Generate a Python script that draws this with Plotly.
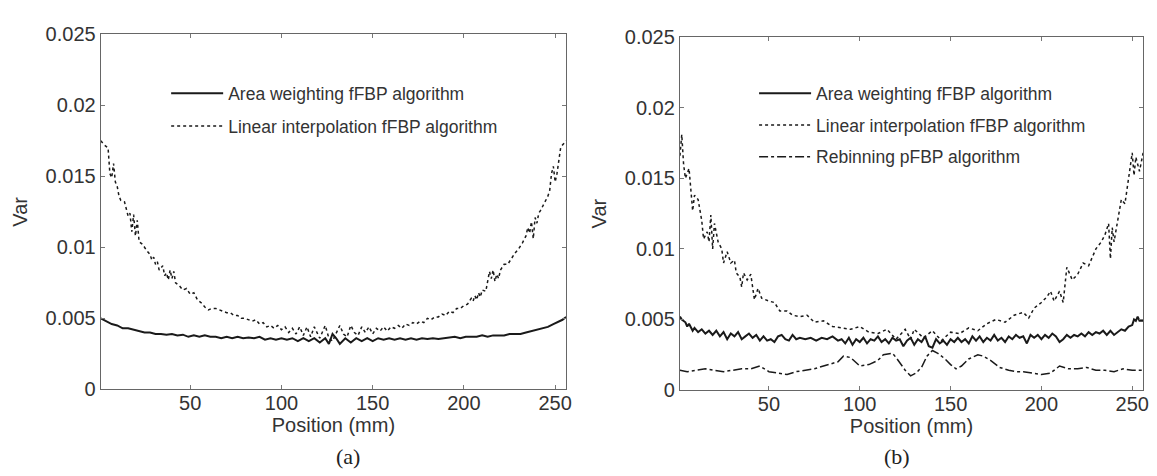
import plotly.graph_objects as go

# ---------------- data: panel (a) ----------------
pos_a_aw = [1, 4, 7, 10, 13, 16, 19, 22, 25, 28, 31, 34, 37, 40, 43, 46, 49, 52, 55, 58,
            61, 64, 67, 70, 73, 76, 79, 82, 85, 88, 91, 94, 97, 100, 103, 106, 109, 112, 115, 118,
            121, 124, 126, 128, 130, 132, 135, 138, 141, 144, 147, 150, 153, 156, 159, 162, 165, 168, 171, 174,
            177, 180, 183, 186, 189, 192, 195, 198, 201, 204, 207, 210, 213, 216, 219, 222, 225, 228, 231, 234,
            237, 240, 243, 246, 249, 252, 254, 256]
var_a_aw = [0.0050, 0.0048, 0.0046, 0.0045, 0.0043, 0.0043, 0.0042, 0.0041, 0.0040, 0.0040,
            0.0039, 0.0039, 0.00385, 0.0039, 0.0038, 0.00385, 0.0037, 0.0038, 0.0037, 0.0038,
            0.0037, 0.0037, 0.0036, 0.0037, 0.0036, 0.0037, 0.0036, 0.00365, 0.0036, 0.0037,
            0.0035, 0.0036, 0.0035, 0.0036, 0.0035, 0.0036, 0.0034, 0.0036, 0.0034, 0.0036,
            0.0033, 0.0036, 0.0032, 0.0039, 0.0036, 0.0032, 0.0036, 0.0033, 0.0036, 0.0034,
            0.0036, 0.0034, 0.0036, 0.0035, 0.0036, 0.0035, 0.0036, 0.0035, 0.0036, 0.0035,
            0.0036, 0.00355, 0.0036, 0.00355, 0.0036, 0.0036, 0.0037, 0.0036, 0.0037, 0.0037,
            0.0037, 0.0038, 0.0037, 0.0038, 0.0038, 0.0038, 0.0039, 0.0039, 0.0039, 0.0040,
            0.0041, 0.0042, 0.0043, 0.0044, 0.0046, 0.0048, 0.0049, 0.0051]

pos_a_li = [1, 3, 5, 6, 7, 8, 9, 10, 11, 12, 14, 15, 16, 17, 18, 19, 20, 21, 22, 24,
            26, 28, 29, 30, 31, 32, 33, 35, 36, 37, 38, 39, 40, 41, 42, 44, 46, 48, 50, 52,
            54, 56, 58, 60, 62, 64, 66, 68, 70, 72, 74, 76, 78, 80, 82, 84, 86, 88, 90, 92,
            94, 96, 98, 100, 102, 104, 106, 108, 110, 112, 114, 116, 118, 121, 124, 126, 128, 130, 132, 134,
            136, 138, 140, 142, 144, 146, 148, 150, 152, 154, 156, 158, 160, 162, 164, 166, 168, 170, 172, 174,
            176, 178, 180, 182, 184, 186, 188, 190, 192, 194, 196, 198, 200, 202, 204, 205, 206, 207, 208, 209,
            210, 212, 213, 214, 215, 216, 217, 218, 219, 220, 222, 224, 226, 228, 230, 232, 234, 235, 236, 237,
            238, 239, 240, 241, 242, 244, 246, 247, 248, 249, 250, 251, 252, 253, 254, 256]
var_a_li = [0.0175, 0.0172, 0.0170, 0.0152, 0.0149, 0.0159, 0.0146, 0.0143, 0.0136, 0.0133,
            0.0132, 0.0127, 0.0122, 0.0124, 0.0111, 0.0123, 0.0108, 0.0119, 0.0104, 0.0102,
            0.0098, 0.0095, 0.0091, 0.0093, 0.0088, 0.0090, 0.0084, 0.0087, 0.0080, 0.0082,
            0.0077, 0.0084, 0.0078, 0.0083, 0.0075, 0.0073, 0.0070, 0.0071, 0.0067, 0.0068,
            0.0063, 0.0061, 0.0058, 0.0056, 0.0057, 0.0057, 0.0056, 0.0055, 0.0054, 0.0054,
            0.0052, 0.0052, 0.0050, 0.0050, 0.0049, 0.0048, 0.0049, 0.0046, 0.0047, 0.0044,
            0.0045, 0.0043, 0.0045, 0.0042, 0.0044, 0.0040, 0.0043, 0.0039, 0.0044, 0.0038,
            0.0044, 0.0037, 0.0044, 0.0036, 0.0045, 0.0036, 0.0034, 0.0040, 0.0045, 0.0039,
            0.0037, 0.0045, 0.0040, 0.0038, 0.0044, 0.0040, 0.0044, 0.0039, 0.0043, 0.0041,
            0.0044, 0.0041, 0.0044, 0.0043, 0.0045, 0.0043, 0.0046, 0.0045, 0.0047, 0.0046,
            0.0048, 0.0047, 0.0050, 0.0049, 0.0051, 0.0051, 0.0053, 0.0052, 0.0055, 0.0054,
            0.0057, 0.0057, 0.0059, 0.0060, 0.0064, 0.0062, 0.0066, 0.0063, 0.0068, 0.0065,
            0.0070, 0.0069, 0.0077, 0.0083, 0.0078, 0.0084, 0.0076, 0.0081, 0.0078, 0.0084,
            0.0088, 0.0088, 0.0092, 0.0096, 0.0099, 0.0103, 0.0108, 0.0114, 0.0110, 0.0118,
            0.0106, 0.0121, 0.0117, 0.0124, 0.0126, 0.0131, 0.0136, 0.0140, 0.0152, 0.0157,
            0.0146, 0.0152, 0.0160, 0.0170, 0.0172, 0.0175]

# ---------------- data: panel (b) ----------------
pos_b_aw = [1, 2, 4, 5, 6, 8, 9, 11, 13, 15, 17, 19, 21, 23, 25, 27, 29, 31, 33, 35,
            37, 39, 41, 43, 45, 47, 49, 51, 53, 55, 57, 59, 61, 63, 65, 67, 70, 73, 76, 79,
            82, 85, 88, 90, 92, 94, 96, 98, 100, 102, 104, 106, 108, 110, 112, 114, 116, 118, 120, 122,
            124, 126, 128, 130, 132, 134, 136, 138, 140, 142, 144, 146, 148, 150, 152, 154, 156, 158, 160, 162,
            164, 166, 168, 170, 172, 174, 176, 178, 180, 182, 184, 186, 188, 190, 192, 194, 196, 198, 200, 202,
            204, 206, 208, 210, 212, 214, 216, 218, 220, 222, 224, 226, 228, 230, 232, 234, 236, 238, 240, 242,
            244, 246, 248, 250, 251, 252, 253, 254, 256]
var_b_aw = [0.0052, 0.0050, 0.0048, 0.0045, 0.0047, 0.0042, 0.0044, 0.0041, 0.0043, 0.0040,
            0.0042, 0.0039, 0.0042, 0.0038, 0.0041, 0.0036, 0.0040, 0.0038, 0.0041, 0.0036,
            0.0038, 0.0040, 0.0037, 0.0039, 0.0035, 0.0038, 0.0035, 0.0036, 0.0034, 0.0038,
            0.0039, 0.0036, 0.0035, 0.0039, 0.0036, 0.0037, 0.0036, 0.0037, 0.0035, 0.0037,
            0.0036, 0.0038, 0.0035, 0.0036, 0.0033, 0.0037, 0.0032, 0.0036, 0.0034, 0.0037,
            0.0033, 0.0036, 0.0035, 0.0038, 0.0034, 0.0036, 0.0033, 0.0037, 0.0035, 0.0036,
            0.0031, 0.0035, 0.0037, 0.0032, 0.0036, 0.0034, 0.0038, 0.0031, 0.0030, 0.0036,
            0.0033, 0.0035, 0.0032, 0.0036, 0.0034, 0.0037, 0.0034, 0.0036, 0.0033, 0.0038,
            0.0035, 0.0038, 0.0034, 0.0037, 0.0035, 0.0039, 0.0035, 0.0037, 0.0034, 0.0038,
            0.0036, 0.0039, 0.0037, 0.0038, 0.0033, 0.0039, 0.0037, 0.0039, 0.0036, 0.0039,
            0.0037, 0.0040, 0.0038, 0.0034, 0.0036, 0.0039, 0.0037, 0.0039, 0.0038, 0.0040,
            0.0038, 0.0041, 0.0039, 0.0041, 0.0040, 0.0042, 0.0039, 0.0042, 0.0039, 0.0041,
            0.0043, 0.0042, 0.0045, 0.0046, 0.0050, 0.0049, 0.0052, 0.0049, 0.0049]

pos_b_li = [1, 2, 3, 4, 6, 7, 8, 9, 11, 13, 14, 16, 17, 18, 19, 20, 22, 24, 25, 27,
            29, 31, 32, 34, 35, 36, 38, 40, 42, 44, 46, 50, 53, 56, 60, 63, 67, 71, 75, 80,
            85, 90, 95, 100, 105, 110, 115, 120, 125, 128, 130, 135, 140, 145, 150, 155, 160, 165, 170, 175,
            180, 185, 190, 193, 196, 200, 203, 205, 207, 210, 212, 214, 217, 220, 223, 226, 230, 233, 235, 237,
            238, 239, 240, 242, 244, 246, 248, 250, 251, 252, 254, 256]
var_b_li = [0.0166, 0.0181, 0.0160, 0.0150, 0.0157, 0.0140, 0.0127, 0.0138, 0.0135, 0.0120,
            0.0107, 0.0112, 0.0105, 0.0124, 0.0100, 0.0118, 0.0105, 0.0100, 0.0090, 0.0098,
            0.0090, 0.0092, 0.0083, 0.0080, 0.0073, 0.0083, 0.0078, 0.0082, 0.0064, 0.0072,
            0.0065, 0.0063, 0.0062, 0.0056, 0.0056, 0.0053, 0.0052, 0.0053, 0.0048, 0.0049,
            0.0045, 0.0044, 0.0043, 0.0045, 0.0041, 0.0040, 0.0043, 0.0036, 0.0043, 0.0036,
            0.0043, 0.0037, 0.0042, 0.0035, 0.0041, 0.0040, 0.0044, 0.0042, 0.0047, 0.0050,
            0.0048, 0.0053, 0.0055, 0.0051, 0.0058, 0.0062, 0.0066, 0.0070, 0.0063, 0.0070,
            0.0062, 0.0087, 0.0078, 0.0082, 0.0090, 0.0088, 0.0100, 0.0105, 0.0110, 0.0118,
            0.0093, 0.0115, 0.0105, 0.0120, 0.0135, 0.0132, 0.0150, 0.0168, 0.0152, 0.0165,
            0.0155, 0.0168]

pos_b_rb = [1, 5, 10, 15, 20, 25, 30, 35, 40, 45, 50, 55, 60, 65, 70, 75, 80, 85, 88, 91,
            95, 100, 105, 110, 113, 118, 120, 125, 128, 131, 134, 137, 140, 143, 147, 150, 153, 156, 160, 165,
            168, 172, 177, 182, 186, 190, 195, 200, 205, 210, 215, 220, 225, 230, 235, 240, 245, 250, 256]
var_b_rb = [0.0014, 0.0013, 0.0014, 0.0015, 0.0014, 0.0013, 0.0014, 0.0015, 0.0015, 0.0017,
            0.0013, 0.0012, 0.0011, 0.0013, 0.0014, 0.0015, 0.0017, 0.0019, 0.0020, 0.0024,
            0.0023, 0.0017, 0.0018, 0.0021, 0.0025, 0.0026, 0.0023, 0.0014, 0.0010, 0.0012,
            0.0016, 0.0024, 0.0028, 0.0026, 0.0022, 0.0018, 0.0015, 0.0017, 0.0022, 0.0025,
            0.0024, 0.0021, 0.0016, 0.0014, 0.0013, 0.0013, 0.0012, 0.0011, 0.0012, 0.0017,
            0.0015, 0.0015, 0.0016, 0.0014, 0.0014, 0.0013, 0.0015, 0.0014, 0.0014]

# ---------------- axes / labels ----------------
x_tick_vals = [50, 100, 150, 200, 250]
x_tick_text = ["50", "100", "150", "200", "250"]
y_tick_vals = [0, 0.005, 0.01, 0.015, 0.02, 0.025]
y_tick_text = ["0", "0.005", "0.01", "0.015", "0.02", "0.025"]
name_aw = "Area weighting fFBP algorithm"
name_li = "Linear interpolation fFBP algorithm"
name_rb = "Rebinning pFBP algorithm"

LINE = "#1a1a1a"
FONT = "Liberation Sans, Arial, sans-serif"
SERIF = "Liberation Serif, Times New Roman, serif"

fig = go.Figure()
fig.add_trace(go.Scatter(x=pos_a_aw, y=var_a_aw, mode="lines", name=name_aw,
                         line=dict(color=LINE, width=2), xaxis="x", yaxis="y",
                         legend="legend", legendgroup="a1"))
fig.add_trace(go.Scatter(x=pos_a_li, y=var_a_li, mode="lines", name=name_li,
                         line=dict(color=LINE, width=1.5, dash="dot"), xaxis="x", yaxis="y",
                         legend="legend", legendgroup="a2"))
fig.add_trace(go.Scatter(x=pos_b_aw, y=var_b_aw, mode="lines", name=name_aw,
                         line=dict(color=LINE, width=2), xaxis="x2", yaxis="y2",
                         legend="legend2", legendgroup="b1"))
fig.add_trace(go.Scatter(x=pos_b_li, y=var_b_li, mode="lines", name=name_li,
                         line=dict(color=LINE, width=1.5, dash="dot"), xaxis="x2", yaxis="y2",
                         legend="legend2", legendgroup="b2"))
fig.add_trace(go.Scatter(x=pos_b_rb, y=var_b_rb, mode="lines", name=name_rb,
                         line=dict(color=LINE, width=1.5, dash="dashdot"), xaxis="x2", yaxis="y2",
                         legend="legend2", legendgroup="b3"))

xcommon = dict(range=[1, 256], tickvals=x_tick_vals, ticktext=x_tick_text,
               ticks="inside", ticklen=4, tickcolor="#777", showline=True, linecolor="#666",
               linewidth=1.2, mirror="ticks", showgrid=False, zeroline=False,
               ticklabelstandoff=-4,
               tickfont=dict(family=FONT, size=20, color="#333"),
               title=dict(text="Position (mm)", font=dict(family=FONT, size=20, color="#333"), standoff=2))
ycommon = dict(range=[0, 0.025], tickvals=y_tick_vals, ticktext=y_tick_text,
               ticks="inside", ticklen=4, tickcolor="#777", showline=True, linecolor="#666",
               linewidth=1.2, mirror="ticks", showgrid=False, zeroline=False,
               tickfont=dict(family=FONT, size=20, color="#333"),
               title=dict(text="Var", font=dict(family=FONT, size=20, color="#333"), standoff=12))

fig.update_layout(
    width=1157, height=476,
    margin=dict(l=0, r=0, t=0, b=0),
    paper_bgcolor="white", plot_bgcolor="white",
    xaxis=dict(domain=[0.0806, 0.4849], anchor="y", **xcommon),
    yaxis=dict(domain=[0.1842, 0.9664], anchor="x", **ycommon),
    xaxis2=dict(domain=[0.5838, 0.9862], anchor="y2", **xcommon),
    yaxis2=dict(domain=[0.1828, 0.960], anchor="x2", **ycommon),
    legend=dict(x=0.1374, y=0.876, xanchor="left", yanchor="top", bgcolor="rgba(0,0,0,0)",
                font=dict(family=FONT, size=17.5, color="#333"), itemwidth=52,
                tracegroupgap=7, traceorder="grouped"),
    legend2=dict(x=0.6482, y=0.876, xanchor="left", yanchor="top", bgcolor="rgba(0,0,0,0)",
                 font=dict(family=FONT, size=17.5, color="#333"), itemwidth=52,
                 tracegroupgap=6, traceorder="grouped"),
    showlegend=True,
    annotations=[
        dict(text="(a)", x=0.2828, y=1 - 459 / 476, xref="paper", yref="paper", yanchor="middle",
             showarrow=False, font=dict(family=SERIF, size=22, color="#222")),
        dict(text="(b)", x=0.785, y=1 - 459 / 476, xref="paper", yref="paper", yanchor="middle",
             showarrow=False, font=dict(family=SERIF, size=22, color="#222")),
    ],
)

fig.write_html("out.html")
